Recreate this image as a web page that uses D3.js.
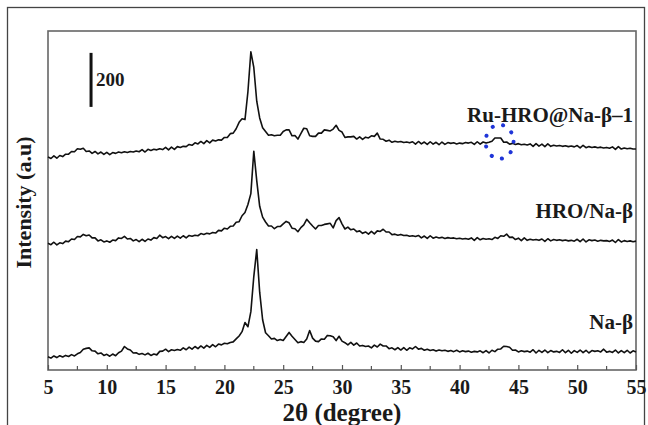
<!DOCTYPE html>
<html><head><meta charset="utf-8">
<script src="https://cdn.jsdelivr.net/npm/d3@7/dist/d3.min.js"></script>
<style>
body{margin:0;background:#fff;}
svg{display:block;}
text{font-family:"Liberation Serif","Times New Roman",serif;font-weight:bold;fill:#1a1a1a;}
</style></head>
<body>
<svg id="chart" width="648" height="425"></svg>
<script>
// 2θ grid (degrees), 0.25° step from 5 to 55
const thetaStart = 5, thetaStep = 0.25;
const xTicks = [5,10,15,20,25,30,35,40,45,50,55];
const seriesNames = ["Na-β","HRO/Na-β","Ru-HRO@Na-β–1"];
const seriesOffsets = [0, 420, 740];
const naBeta = [
49,44,52,46, 53,48,54,50, 57,52,60,65, 77,80,82,71, 70,60,63,54,
58,51,59,53, 64,70,87,78, 74,63,64,58, 61,56,62,54, 59,56,69,70,
77,68,75,72, 76,73,82,75, 85,77,87,79, 89,81,91,84, 94,86,96,93,
99,97,102,104, 115,126,142,176, 160,216,346,446, 288,186,138,127, 115,117,109,113,
109,124,139,125, 113,101,105,102, 115,146,118,107, 105,115,114,128, 127,123,109,125,
107,101,93,102, 92,100,89,91, 87,89,82,92, 85,96,89,89, 79,82,75,83,
74,83,73,82, 78,87,77,80, 73,77,72,75, 70,74,71,73, 69,72,68,73,
67,71,68,70, 66,69,67,71, 64,72,63,73, 68,77,78,88, 87,84,73,74,
67,71,68,70, 66,75,63,73, 65,74,64,72, 67,69,65,75, 64,73,62,72,
65,74,64,73, 63,72,69,71, 67,77,66,69, 65,74,63,72, 64,73,63,71, 67];
const hroNaBeta = [
49,44,53,43, 51,48,57,55, 65,63,74,73, 82,77,80,69, 69,58,62,54,
58,53,61,59, 69,67,75,65, 67,58,63,55, 64,56,65,61, 70,67,79,70,
74,66,75,67, 76,68,77,69, 78,75,79,77, 85,82,86,84, 89,87,97,95,
105,102,112,113, 127,129,151,163, 193,233,390,281, 186,146,128,113, 113,103,111,111,
121,130,125,105, 103,92,107,117, 138,125,113,102, 115,115,119,121, 123,106,133,144,
121,102,109,99, 102,92,95,86, 91,83,93,84, 95,93,101,91, 91,81,83,79,
82,78,79,75, 77,74,78,69, 76,67,77,68, 72,69,71,67, 70,68,69,66,
68,65,67,64, 69,60,70,62, 67,64,66,63, 71,67,77,75, 83,71,72,63,
68,59,69,60, 64,61,63,60, 65,56,66,58, 63,60,62,59, 61,58,60,57,
64,55,65,54, 62,59,61,57, 60,58,59,56, 61,52,63,54, 59,56,58,55, 57];
const ruHroNaBeta = [
49,43,53,44, 54,50,59,59, 69,68,79,77, 81,69,71,62, 69,60,67,58,
66,57,65,62, 67,64,68,65, 69,67,71,68, 76,67,77,73, 77,75,79,76,
84,75,85,77, 87,84,88,87, 95,92,101,97, 106,98,109,101, 111,108,112,111,
121,121,135,137, 153,177,190,187, 290,438,380,255, 193,157,143,129, 131,127,129,129,
143,149,149,127, 128,115,135,155, 153,127,125,125, 137,137,149,147, 145,152,166,147,
141,121,123,123, 125,115,123,114, 122,119,127,125, 137,115,114,107, 111,103,107,104,
106,102,104,101, 105,96,106,97, 104,95,105,96, 103,94,104,95, 102,99,101,97,
100,98,102,100, 103,95,105,96, 104,100,103,107, 119,119,119,103, 104,96,99,95,
98,94,96,93, 97,88,98,89, 96,87,97,88, 92,89,91,88, 90,87,89,86,
91,82,92,83, 87,84,86,83, 85,82,84,81, 86,77,87,78, 82,79,81,78, 78];
const seriesValues = [naBeta, hroNaBeta, ruHroNaBeta];
const scaleBarValue = 200;      // a.u.
const scaleBarAt = {theta: 8.66, top: 1174};
const highlight = {theta: 43.4, value: 845};

const svg = d3.select("#chart");
const W = 648, H = 425;
const m = {left:48, right:12, top:31, bottom:55};
const x = d3.scaleLinear().domain([5,55]).range([m.left, W - m.right]);
const y = d3.scaleLinear().domain([0,1255]).range([H - m.bottom, m.top]);

// outer frame
svg.append("rect").attr("x",7.5).attr("y",7.5).attr("width",637).attr("height",440)
  .attr("fill","none").attr("stroke","#444").attr("stroke-width",1.3);

// plot frame
svg.append("rect").attr("x",x(5)).attr("y",m.top).attr("width",x(55)-x(5)).attr("height",y(0)-m.top)
  .attr("fill","none").attr("stroke","#666").attr("stroke-width",1.6);

// x axis with inward ticks
const xAxis = d3.axisBottom(x).tickValues(xTicks).tickSize(-5).tickPadding(10).tickFormat(d3.format("d"));
const gx = svg.append("g").attr("transform",`translate(0,${y(0)})`).call(xAxis);
gx.select(".domain").remove();
gx.selectAll(".tick line").attr("stroke","#555").attr("stroke-width",1.2);
gx.selectAll(".tick text").attr("font-size",null).attr("font-family",null)
  .style("font-size","20px").style("font-family",'"Liberation Serif",serif').style("font-weight","bold").attr("fill","#1a1a1a");
gx.attr("font-size",null).attr("font-family",null);
const minor = d3.range(7.5, 55, 5);
svg.append("g").selectAll("line").data(minor).join("line")
  .attr("x1",d=>x(d)).attr("x2",d=>x(d)).attr("y1",y(0)).attr("y2",y(0)-4)
  .attr("stroke","#555").attr("stroke-width",1.2);

// curves
const line = d3.line().x((d,i)=>x(thetaStart + i*thetaStep)).y(d=>y(d));
seriesValues.forEach((vals,k)=>{
  svg.append("path").datum(vals.map(v=>v + seriesOffsets[k]))
    .attr("d",line).attr("fill","none").attr("stroke","#111").attr("stroke-width",1.6)
    .attr("stroke-linejoin","round");
});

// series labels
const labelY = [329, 218, 122];
seriesNames.forEach((n,k)=>{
  svg.append("text").attr("x",633).attr("y",labelY[k]).attr("text-anchor","end")
    .style("font-size","21px").text(n);
});

// scale bar
svg.append("line").attr("x1",x(scaleBarAt.theta)).attr("x2",x(scaleBarAt.theta))
  .attr("y1",y(scaleBarAt.top)).attr("y2",y(scaleBarAt.top - scaleBarValue))
  .attr("stroke","#111").attr("stroke-width",3);
svg.append("text").attr("x",x(scaleBarAt.theta)+5).attr("y",y(scaleBarAt.top - scaleBarValue/2)+6)
  .style("font-size","19px").text(scaleBarValue);

// highlight dotted circle
svg.append("ellipse").attr("cx",x(highlight.theta)).attr("cy",y(highlight.value))
  .attr("rx",14).attr("ry",17).attr("fill","none").attr("stroke","#1f35d8")
  .attr("stroke-width",4).attr("stroke-linecap","round").attr("stroke-dasharray","0.1 10.8");

// axis titles
svg.append("text").attr("x",(x(5)+x(55))/2).attr("y",421).attr("text-anchor","middle")
  .style("font-size","25px").text("2θ (degree)");
svg.append("text").attr("transform",`translate(31,${(m.top + y(0))/2 + 2}) rotate(-90)`)
  .attr("text-anchor","middle").style("font-size","22px").text("Intensity (a.u)");
</script>
</body></html>
